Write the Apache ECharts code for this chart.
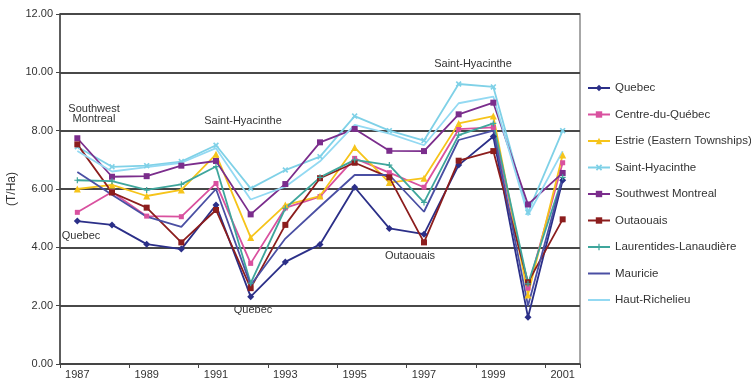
<!DOCTYPE html>
<html>
<head>
<meta charset="utf-8">
<script src="https://cdn.jsdelivr.net/npm/echarts@6/dist/echarts.min.js"></script>
<style>
html,body{margin:0;padding:0;background:#fff;}
#c{width:751px;height:381px;}
</style>
</head>
<body>
<div id="c"></div>
<script>
var years = ['1987','1988','1989','1990','1991','1992','1993','1994','1995','1996','1997','1998','1999','2000','2001'];
var yTicks = [0, 2, 4, 6, 8, 10, 12];

var quebec        = [4.90, 4.77, 4.11, 3.94, 5.45, 2.31, 3.50, 4.10, 6.06, 4.65, 4.45, 6.82, 7.80, 1.60, 6.30];
var centre        = [5.20, 5.90, 5.07, 5.05, 6.19, 3.45, 5.35, 5.74, 7.05, 6.56, 6.06, 8.05, 8.11, 2.60, 6.90];
var estrie        = [6.00, 6.14, 5.76, 5.97, 7.19, 4.34, 5.45, 5.76, 7.42, 6.22, 6.37, 8.25, 8.50, 2.37, 7.17];
var stHyacinthe   = [7.45, 6.76, 6.80, 6.94, 7.50, 6.02, 6.65, 7.11, 8.50, 8.00, 7.66, 9.60, 9.50, 5.20, 8.00];
var southwest     = [7.74, 6.42, 6.44, 6.80, 6.96, 5.13, 6.17, 7.60, 8.06, 7.31, 7.30, 8.56, 8.96, 5.47, 6.55];
var outaouais     = [7.53, 5.88, 5.36, 4.17, 5.28, 2.60, 4.77, 6.37, 6.90, 6.40, 4.17, 6.97, 7.30, 2.80, 4.96];
var laurentides   = [6.30, 6.27, 5.97, 6.16, 6.77, 2.77, 5.34, 6.40, 7.00, 6.82, 5.54, 7.85, 8.25, 2.75, 6.40];
var mauricie      = [6.58, 5.80, 5.05, 4.70, 6.00, 2.70, 4.30, 5.40, 6.48, 6.48, 5.22, 7.68, 8.00, 2.00, 6.40];
var hautRichelieu = [7.30, 6.60, 6.75, 6.90, 7.40, 5.64, 6.08, 6.95, 8.20, 7.90, 7.50, 8.94, 9.17, 5.10, 7.30];

var LINE_SYM = 'path://M0,0L0.01,0L0,0.01Z M0,4.6L10,4.6L10,5.4L0,5.4Z M10,10L9.99,10L10,9.99Z';
var seriesDefs = [
  {name:'Quebec', data:quebec, color:'#2B2F88', symbol:'diamond', size:7},
  {name:'Centre-du-Québec', data:centre, color:'#D9519F', symbol:'rect', size:5},
  {name:'Estrie (Eastern Townships)', data:estrie, color:'#F6C41A', symbol:'triangle', size:7},
  {name:'Saint-Hyacinthe', data:stHyacinthe, color:'#7FD1E7', symbol:'path://M2,0L5,3L8,0L10,2L7,5L10,8L8,10L5,7L2,10L0,8L3,5L0,2Z', size:6},
  {name:'Southwest Montreal', data:southwest, color:'#7B2D8C', symbol:'rect', size:6},
  {name:'Outaouais', data:outaouais, color:'#8C1D1D', symbol:'rect', size:6},
  {name:'Laurentides-Lanaudière', data:laurentides, color:'#3FA69C', symbol:'path://M4,0L6,0L6,4L10,4L10,6L6,6L6,10L4,10L4,6L0,6L0,4L4,4Z', size:6},
  {name:'Mauricie', data:mauricie, color:'#4A4FA3', symbol:LINE_SYM, size:0, noMark:true},
  {name:'Haut-Richelieu', data:hautRichelieu, color:'#93D9F2', symbol:LINE_SYM, size:0, noMark:true}
];

var series = seriesDefs.map(function(d){
  return {
    name:d.name, type:'line', data:d.data,
    symbol:d.symbol, symbolSize:d.size, showSymbol: !d.noMark,
    lineStyle:{color:d.color, width:1.8},
    itemStyle:{color:d.color},
    emphasis:{disabled:true},
    animation:false
  };
});

var fontFam = '"Liberation Sans", Arial, sans-serif';
function ann(text, x, y){
  return {type:'text', x:x, y:y, style:{text:text, fill:'#333', font:'11px ' + fontFam, align:'center', verticalAlign:'middle', lineHeight:10}};
}

var chart = echarts.init(document.getElementById('c'), null, {renderer:'canvas'});
chart.setOption({
  animation:false,
  textStyle:{fontFamily:fontFam},
  grid:{left:60, right:171, top:14, bottom:17, containLabel:false, outerBoundsMode:'none', show:true, borderColor:'#8a8a8a', borderWidth:1.5, backgroundColor:'transparent'},
  xAxis:{
    type:'category', data:years, boundaryGap:true,
    axisLine:{lineStyle:{color:'#444', width:1.5}},
    axisTick:{show:true, length:4, lineStyle:{color:'#444'}},
    axisLabel:{interval:1, color:'#333', fontSize:11, margin:5}
  },
  yAxis:{
    type:'value', min:0, max:12, interval:2,
    name:'(T/Ha)', nameLocation:'middle', nameGap:42, nameRotate:90, nameMoveOverlap:false,
    nameTextStyle:{color:'#333', fontSize:12},
    axisLine:{show:true, lineStyle:{color:'#444', width:1.5}},
    axisTick:{show:true, length:4, lineStyle:{color:'#444'}},
    axisLabel:{color:'#333', fontSize:11, margin:7, formatter:function(v){return v.toFixed(2);}},
    splitLine:{lineStyle:{color:'#484848', width:2}}
  },
  legend:{
    orient:'vertical', left:587, top:82, padding:0,
    itemWidth:22, itemHeight:8, itemGap:14.5,
    textStyle:{color:'#333', fontSize:11.5},
    data:seriesDefs.map(function(d){return d.name;})
  },
  graphic:[
    ann('Southwest\nMontreal', 94, 114),
    ann('Saint-Hyacinthe', 243, 121),
    ann('Saint-Hyacinthe', 473, 64),
    ann('Quebec', 81, 236),
    ann('Quebec', 253, 310),
    ann('Outaouais', 410, 256)
  ],
  series:series
});
</script>
</body>
</html>
